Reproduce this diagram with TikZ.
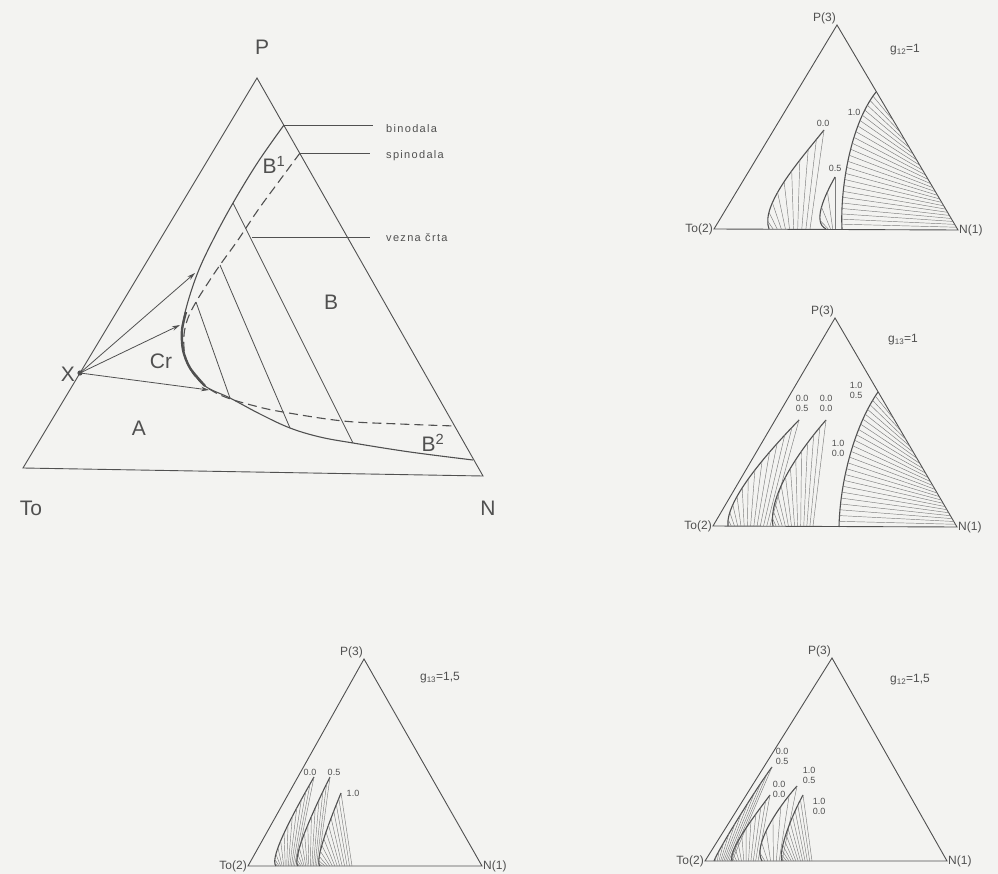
\documentclass[tikz,border=0pt]{standalone}
\usepackage{fontspec}
\setmainfont{Liberation Sans}
\newfontfamily\lettering[LetterSpace=12]{Liberation Sans}
\usetikzlibrary{calc,arrows.meta}
\definecolor{paper}{HTML}{F3F3F1}
\definecolor{pencil}{HTML}{505050}
\definecolor{faint}{HTML}{7C7C7C}

\tikzset{
  side/.style={draw=pencil,line width=0.9pt},
  curve/.style={draw=pencil,line width=1.1pt},
  tie/.style={draw=pencil,line width=0.8pt},
  hatch/.style={draw=faint,line width=0.45pt},
  big/.style={font=\fontsize{21}{21}\selectfont,text=pencil,inner sep=0pt},
  lbl/.style={font=\lettering\fontsize{11}{11}\selectfont,text=pencil,inner sep=0pt,anchor=west},
  corner/.style={font=\fontsize{12}{12}\selectfont,text=pencil,inner sep=1pt},
  num/.style={font=\fontsize{9}{10}\selectfont,text=pencil,inner sep=0pt,align=center},
}

% one binodal lobe, hatched down to the base
\newcommand\hatchlobe[6]{% top, c1, c2, left foot, right foot, lines
  \draw[curve] #1 .. controls #2 and #3 .. #4;
  \foreach \k in {0,...,#6}{
    \pgfmathsetmacro\pp{\k/(#6+1)}
    \path #1 .. controls #2 and #3 .. #4 coordinate[pos=\pp] (q);
    \draw[hatch] (q) -- ($#5!\pp!#4$);
  }}
% binodal with tie lines fanning to the N side
\newcommand\fanlobe[6]{% top, c1, c2, foot, corner, lines
  \draw[curve] #1 .. controls #2 and #3 .. #4;
  \foreach \k in {1,...,#6}{
    \pgfmathsetmacro\pp{\k/(#6+1)}
    \pgfmathsetmacro\ss{sqrt(\pp)}
    \path #1 .. controls #2 and #3 .. #4 coordinate[pos=\pp] (q);
    \draw[hatch] (q) -- ($#1!\ss!#5$);
  }}

\begin{document}
\begin{tikzpicture}[x=1pt,y=-1pt]
  \fill[paper] (0,0) rectangle (998,874);

  % ---- big diagram
  \coordinate (To) at (23,468);
  \coordinate (N) at (483,476);
  \coordinate (P) at (257,78);
  \coordinate (X) at (80,373);
  \draw[side] (To) -- (N) -- (P) -- cycle;

  \coordinate (bin) at (284,125);
  \coordinate (spin) at (300,153);
  \draw[curve] plot[smooth,tension=0.6] coordinates {(bin) (258,162) (233,203) (213,240)
    (198,272) (187,305) (182,330) (183,350) (190,368) (205,386) (230,398) (260,414)
    (290,428) (320,437) (353,443) (410,452) (473,460)};
  \draw[pencil,line width=2.4pt] plot[smooth] coordinates {(186,312) (182,330) (183,350)
    (190,368) (205,386)};
  \draw[curve,dash pattern=on 9pt off 5pt] plot[smooth,tension=0.6] coordinates {(spin)
    (280,180) (258,210) (238,240) (220,265) (206,286) (196,302) (188,318)
    (184,335) (185,355) (192,372) (205,386) (225,397) (255,406) (283,412) (343,421)
    (400,424) (455,426)};

  % tie lines
  \coordinate (t1a) at (233,203); \coordinate (t1b) at (353,443);
  \coordinate (t2a) at (220,265); \coordinate (t2b) at (290,428);
  \coordinate (t3a) at (196,302); \coordinate (t3b) at (230,398);
  \draw[tie] (t1a) -- (t1b);
  \draw[tie] (t2a) -- (t2b);
  \draw[tie] (t3a) -- (t3b);

  % leaders
  \coordinate (vez) at (252,237);
  \node[lbl] (binL) at (386,129) {binodala};
  \node[lbl] (spinL) at (386,156) {spinodala};
  \node[lbl] (vezL) at (386,238) {vezna črta};
  \draw[tie] (bin) -- ++(89,0);
  \draw[tie] (spin) -- ++(70,0);
  \draw[tie] (vez) -- ++(118,0);

  % arrows from X
  \coordinate (a1) at (195,273);
  \coordinate (a2) at (180,325);
  \coordinate (a3) at (209,390);
  \foreach \a in {a1,a2,a3}
    \draw[tie,-{Stealth[length=8pt,width=4.5pt]}] (X) -- (\a);
  \fill[pencil] (X) circle (2.6);

  \node[big] (lP) at (262,47) {P};
  \node[big] (lTo) at (31,508) {To};
  \node[big] (lN) at (488,508) {N};
  \node[big,anchor=east] (lX) at (75,374) {X};
  \node[big] (lCr) at (161,361) {Cr};
  \node[big] (lB) at (331,302) {B};
  \node[big] (lA) at (139,428) {A};
  \node[big] (lB1) at (274,165) {B\textsuperscript{1}};
  \node[big] (lB2) at (433,443) {B\textsuperscript{2}};

  % ---- top right, g12=1
  \coordinate (Pa) at (837,25);
  \coordinate (Ta) at (714,229);
  \coordinate (Na) at (958,230);
  \draw[side] (Ta) -- (Na) -- (Pa) -- cycle;
  \fanlobe{(876,92)}{(850,125)}{(840,190)}{(842,229)}{(Na)}{24}
  \hatchlobe{(824,130)}{(800,160)}{(760,205)}{(769,229)}{(810,229)}{9}
  \hatchlobe{(835,177)}{(825,195)}{(812,222)}{(826,229)}{(835,229)}{3}
  \node[num] at (854,112) {1.0};
  \node[num] at (823,123) {0.0};
  \node[num] at (835,168) {0.5};
  \node[corner,anchor=south east] at (Pa) {P(3)};
  \node[corner,anchor=east] at (Ta) {To(2)};
  \node[corner,anchor=west] at (Na) {N(1)};
  \node[corner] at (905,50) {g\textsubscript{12}=1};

  % ---- middle right, g13=1
  \coordinate (Pb) at (835,318);
  \coordinate (Tb) at (713,526);
  \coordinate (Nb) at (957,527);
  \draw[side] (Tb) -- (Nb) -- (Pb) -- cycle;
  \fanlobe{(878,392)}{(855,425)}{(840,480)}{(839,527)}{(Nb)}{24}
  \hatchlobe{(799,420)}{(770,450)}{(725,500)}{(728,526)}{(770,526)}{12}
  \hatchlobe{(826,420)}{(800,450)}{(768,495)}{(773,526)}{(813,526)}{12}
  \node[num] at (802,403) {0.0\\0.5};
  \node[num] at (826,403) {0.0\\0.0};
  \node[num] at (856,390) {1.0\\0.5};
  \node[num] at (838,448) {1.0\\0.0};
  \node[corner,anchor=south east] at (Pb) {P(3)};
  \node[corner,anchor=east] at (Tb) {To(2)};
  \node[corner,anchor=west] at (Nb) {N(1)};
  \node[corner] at (903,340) {g\textsubscript{13}=1};

  % ---- bottom left, g13=1,5
  \coordinate (Pc) at (364,659);
  \coordinate (Tc) at (248,866);
  \coordinate (Nc) at (482,866);
  \draw[side] (Tc) -- (Nc) -- (Pc) -- cycle;
  \hatchlobe{(314,777)}{(298,805)}{(268,858)}{(276,866)}{(296,866)}{12}
  \hatchlobe{(330,777)}{(316,805)}{(291,858)}{(298,866)}{(318,866)}{12}
  \hatchlobe{(341,793)}{(332,815)}{(314,860)}{(320,866)}{(352,866)}{12}
  \node[num] at (310,772) {0.0};
  \node[num] at (334,772) {0.5};
  \node[num] at (353,793) {1.0};
  \node[corner,anchor=south east] at (Pc) {P(3)};
  \node[corner,anchor=east] at (Tc) {To(2)};
  \node[corner,anchor=west] at (Nc) {N(1)};
  \node[corner] at (440,678) {g\textsubscript{13}=1,5};

  % ---- bottom right, g12=1,5
  \coordinate (Pd) at (832,658);
  \coordinate (Td) at (705,861);
  \coordinate (Nd) at (947,861);
  \draw[side] (Td) -- (Nd) -- (Pd) -- cycle;
  \hatchlobe{(772,767)}{(755,790)}{(718,850)}{(714,861)}{(732,861)}{10}
  \hatchlobe{(770,795)}{(755,815)}{(728,850)}{(732,861)}{(758,861)}{10}
  \hatchlobe{(797,786)}{(780,805)}{(752,845)}{(762,861)}{(782,861)}{6}
  \hatchlobe{(803,795)}{(792,815)}{(778,850)}{(782,861)}{(812,861)}{12}
  \node[num] at (782,756) {0.0\\0.5};
  \node[num] at (779,789) {0.0\\0.0};
  \node[num] at (809,775) {1.0\\0.5};
  \node[num] at (819,806) {1.0\\0.0};
  \node[corner,anchor=south east] at (Pd) {P(3)};
  \node[corner,anchor=east] at (Td) {To(2)};
  \node[corner,anchor=west] at (Nd) {N(1)};
  \node[corner] at (910,680) {g\textsubscript{12}=1,5};
\end{tikzpicture}
\end{document}
